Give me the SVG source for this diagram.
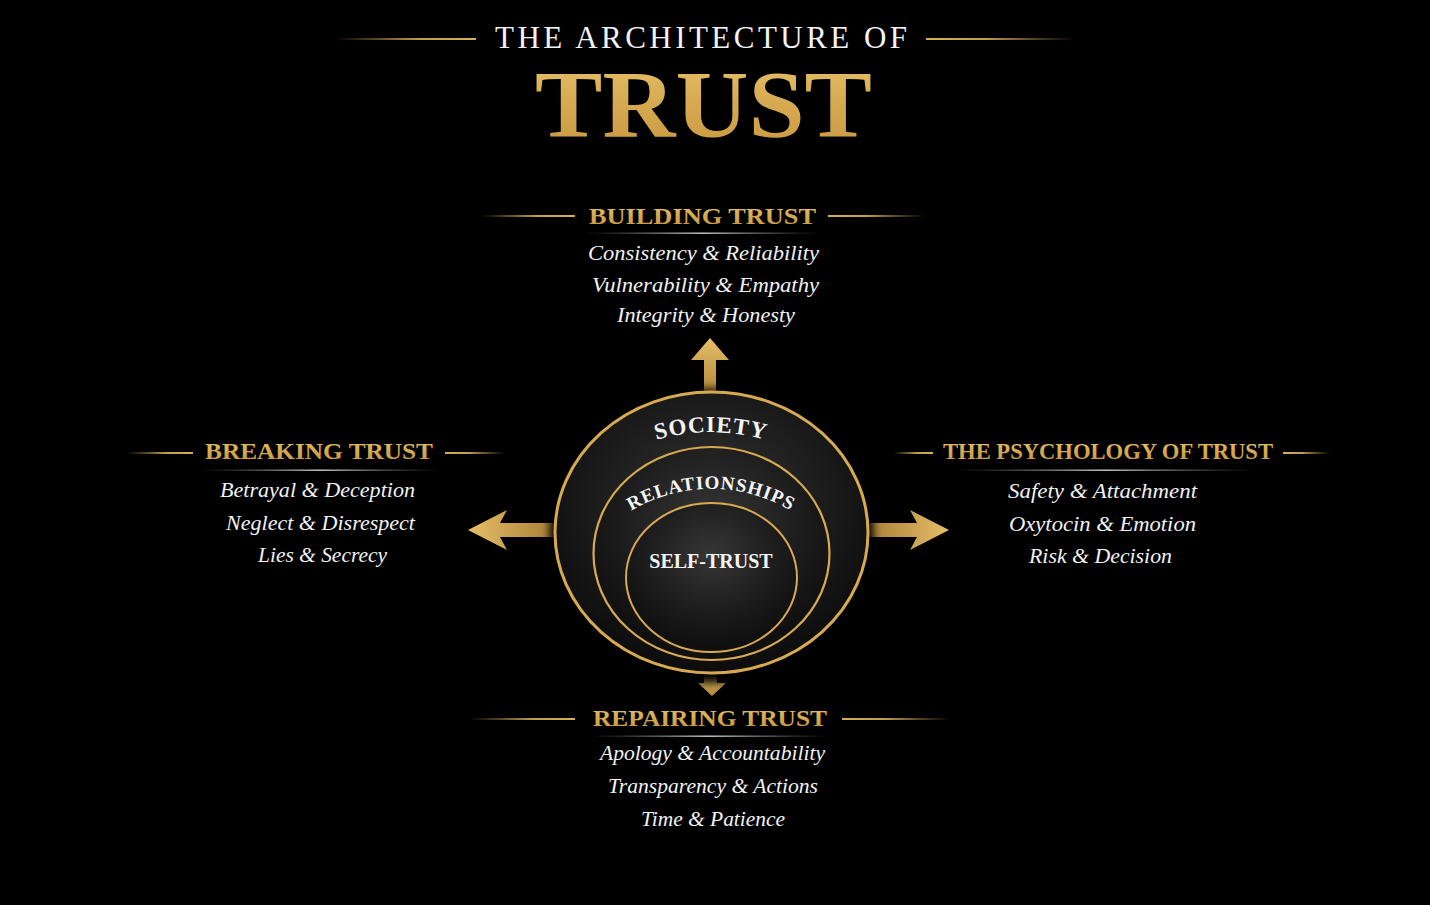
<svg xmlns="http://www.w3.org/2000/svg" width="1430" height="905" viewBox="0 0 1430 905">
  <defs>
    <linearGradient id="goldText" x1="0" y1="0" x2="0" y2="1">
      <stop offset="0" stop-color="#E9C46E"/>
      <stop offset="0.5" stop-color="#D6A94F"/>
      <stop offset="1" stop-color="#C7963F"/>
    </linearGradient>
    <linearGradient id="lineL" x1="0" y1="0" x2="1" y2="0">
      <stop offset="0" stop-color="#C9A04B" stop-opacity="0"/>
      <stop offset="0.6" stop-color="#D8AE58" stop-opacity="0.9"/>
      <stop offset="1" stop-color="#D8AE58"/>
    </linearGradient>
    <linearGradient id="lineR" x1="0" y1="0" x2="1" y2="0">
      <stop offset="0" stop-color="#D8AE58"/>
      <stop offset="0.4" stop-color="#D8AE58" stop-opacity="0.9"/>
      <stop offset="1" stop-color="#C9A04B" stop-opacity="0"/>
    </linearGradient>
    <linearGradient id="sep" x1="0" y1="0" x2="1" y2="0">
      <stop offset="0" stop-color="#888" stop-opacity="0"/>
      <stop offset="0.5" stop-color="#d0d0d0"/>
      <stop offset="1" stop-color="#888" stop-opacity="0"/>
    </linearGradient>
    <linearGradient id="arrowH" x1="0" y1="0" x2="1" y2="0">
      <stop offset="0" stop-color="#E6BE68"/>
      <stop offset="1" stop-color="#A97E34"/>
    </linearGradient>
    <linearGradient id="arrowHR" x1="0" y1="0" x2="1" y2="0">
      <stop offset="0" stop-color="#A97E34"/>
      <stop offset="1" stop-color="#E6BE68"/>
    </linearGradient>
    <linearGradient id="arrowV" x1="0" y1="0" x2="0" y2="1">
      <stop offset="0" stop-color="#E6BE68"/>
      <stop offset="1" stop-color="#B58A3B"/>
    </linearGradient>
    <radialGradient id="disk" cx="0.5" cy="0.4" r="0.6">
      <stop offset="0" stop-color="#333"/>
      <stop offset="0.6" stop-color="#1c1c1c"/>
      <stop offset="1" stop-color="#0c0c0c"/>
    </radialGradient>
    <radialGradient id="disk2" cx="0.5" cy="0.35" r="0.6">
      <stop offset="0" stop-color="#363636"/>
      <stop offset="0.7" stop-color="#1a1a1a"/>
      <stop offset="1" stop-color="#101010"/>
    </radialGradient>
    <filter id="shadow" x="-20%" y="-20%" width="140%" height="140%">
      <feGaussianBlur stdDeviation="4"/>
    </filter>
    <path id="arcSociety" d="M 561 500 A 200 200 0 0 1 861 500"/>
    <path id="arcRel" d="M 561 602 A 156 156 0 0 1 861 602"/>
    <style>
      .gold-line-l { fill: url(#lineL); }
      .gold-line-r { fill: url(#lineR); }
      .sep { fill: url(#sep); }
      .head { font-family: "Liberation Serif", serif; font-weight: bold; font-size: 24px; fill: url(#goldText); text-anchor: middle; }
      .item { font-family: "Liberation Serif", serif; font-style: italic; font-size: 22px; fill: #f2f2f2; text-anchor: middle; }
      .ring { fill: none; stroke: #D7AA52; }
      .ringlabel { font-family: "Liberation Serif", serif; font-weight: bold; fill: #f4f4f4; }
    </style>
  </defs>

  <rect x="0" y="0" width="1430" height="905" fill="#000"/>

  <g id="title">
    <rect class="gold-line-l" x="335" y="38" width="141" height="2"/>
    <rect class="gold-line-r" x="926" y="38" width="149" height="2"/>
    <text x="701.5" y="48" font-family="Liberation Serif, serif" font-size="31" letter-spacing="1" fill="#f4f4f4" text-anchor="middle" textLength="413" lengthAdjust="spacing">THE ARCHITECTURE OF</text>
    <text x="703.5" y="137" font-family="Liberation Serif, serif" font-weight="bold" font-size="96" fill="url(#goldText)" text-anchor="middle" textLength="337" lengthAdjust="spacingAndGlyphs">TRUST</text>
  </g>

  <g id="connectors">
    <polygon points="704,391 704,360 691,360 710,338 729,360 716,360 716,391" fill="url(#arrowV)"/>
    <polygon points="556,523 500,523 507,510 468,530 507,550 500,537 556,537" fill="url(#arrowH)"/>
    <polygon points="866,523 917,523 910,510 949,530 910,550 917,537 866,537" fill="url(#arrowHR)"/>
    <polygon points="704,670 704,683 698,683 712,696 726,683 717,683 717,670" fill="url(#arrowV)"/>
  </g>

  <g id="node-core">
    <ellipse cx="711.5" cy="536" rx="162" ry="147" fill="#000" filter="url(#shadow)"/>
    <ellipse cx="711.5" cy="532.5" rx="156.5" ry="140.5" fill="url(#disk)"/>
    <ellipse cx="711.5" cy="532.5" rx="156.5" ry="140.5" class="ring" stroke-width="3"/>
    <ellipse cx="711.5" cy="553.5" rx="118" ry="106.5" fill="url(#disk2)"/>
    <ellipse cx="711.5" cy="553.5" rx="118" ry="106.5" class="ring" stroke-width="2.2"/>
    <ellipse cx="711.5" cy="577.5" rx="85.5" ry="74.5" fill="url(#disk2)"/>
    <ellipse cx="711.5" cy="577.5" rx="85.5" ry="74.5" class="ring" stroke-width="2"/>
    <text class="ringlabel" font-size="23" letter-spacing="1"><textPath href="#arcSociety" startOffset="50%" text-anchor="middle">SOCIETY</textPath></text>
    <text class="ringlabel" font-size="19" letter-spacing="1"><textPath href="#arcRel" startOffset="50%" text-anchor="middle">RELATIONSHIPS</textPath></text>
    <text class="ringlabel" x="711" y="568" font-size="20" text-anchor="middle">SELF-TRUST</text>
  </g>

  <g id="node-building">
    <rect class="gold-line-l" x="480" y="215" width="95" height="2"/>
    <rect class="gold-line-r" x="828" y="215" width="97" height="2"/>
    <text class="head" x="702.5" y="224" textLength="227" lengthAdjust="spacingAndGlyphs">BUILDING TRUST</text>
    <rect class="sep" x="585" y="232.5" width="235" height="1.4"/>
    <text class="item" x="703.5" y="260" textLength="231" lengthAdjust="spacingAndGlyphs">Consistency &amp; Reliability</text>
    <text class="item" x="705.5" y="292" textLength="227" lengthAdjust="spacingAndGlyphs">Vulnerability &amp; Empathy</text>
    <text class="item" x="706" y="322" textLength="178" lengthAdjust="spacingAndGlyphs">Integrity &amp; Honesty</text>
  </g>

  <g id="node-breaking">
    <rect class="gold-line-l" x="127" y="452" width="66" height="2"/>
    <rect class="gold-line-r" x="445" y="452" width="60" height="2"/>
    <text class="head" x="319" y="459" textLength="228" lengthAdjust="spacingAndGlyphs">BREAKING TRUST</text>
    <rect class="sep" x="200" y="469.5" width="240" height="1.4"/>
    <text class="item" x="317.5" y="497" textLength="195" lengthAdjust="spacingAndGlyphs">Betrayal &amp; Deception</text>
    <text class="item" x="320.5" y="530" textLength="189" lengthAdjust="spacingAndGlyphs">Neglect &amp; Disrespect</text>
    <text class="item" x="322.5" y="562" textLength="129" lengthAdjust="spacingAndGlyphs">Lies &amp; Secrecy</text>
  </g>

  <g id="node-psychology">
    <rect class="gold-line-l" x="893" y="452" width="40" height="2"/>
    <rect class="gold-line-r" x="1283" y="452" width="47" height="2"/>
    <text class="head" x="1108" y="459" textLength="330" lengthAdjust="spacingAndGlyphs">THE PSYCHOLOGY OF TRUST</text>
    <rect class="sep" x="955" y="469.5" width="300" height="1.4"/>
    <text class="item" x="1102.5" y="498" textLength="189" lengthAdjust="spacingAndGlyphs">Safety &amp; Attachment</text>
    <text class="item" x="1102.5" y="531" textLength="187" lengthAdjust="spacingAndGlyphs">Oxytocin &amp; Emotion</text>
    <text class="item" x="1100.5" y="563" textLength="143" lengthAdjust="spacingAndGlyphs">Risk &amp; Decision</text>
  </g>

  <g id="node-repairing">
    <rect class="gold-line-l" x="470" y="718" width="105" height="2"/>
    <rect class="gold-line-r" x="842" y="718" width="108" height="2"/>
    <text class="head" x="710" y="726" textLength="234" lengthAdjust="spacingAndGlyphs">REPAIRING TRUST</text>
    <rect class="sep" x="590" y="735.5" width="240" height="1.4"/>
    <text class="item" x="712.5" y="760" textLength="225" lengthAdjust="spacingAndGlyphs">Apology &amp; Accountability</text>
    <text class="item" x="713" y="793" textLength="210" lengthAdjust="spacingAndGlyphs">Transparency &amp; Actions</text>
    <text class="item" x="713" y="826" textLength="144" lengthAdjust="spacingAndGlyphs">Time &amp; Patience</text>
  </g>
</svg>
